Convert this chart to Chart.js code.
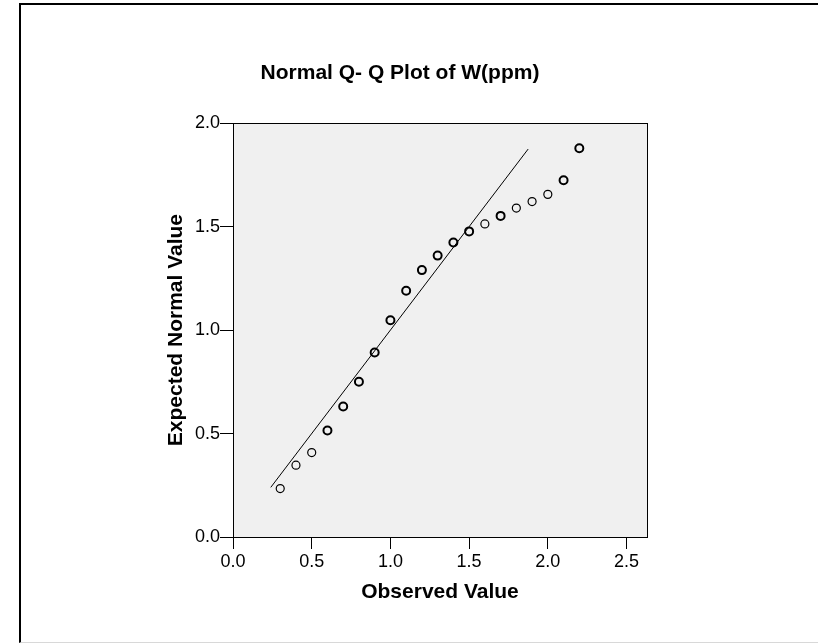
<!DOCTYPE html>
<html>
<head>
<meta charset="utf-8">
<script src="https://cdn.jsdelivr.net/npm/chart.js@4/dist/chart.umd.min.js"></script>
<style>
    html, body { margin: 0; padding: 0; background: #fff; }
    #wrap { position: relative; width: 818px; height: 643px; overflow: hidden; }
    #chart { position: absolute; left: 0; top: 0; }
    #frame {
        position: absolute; left: 19px; top: 3px; width: 810px; height: 637px;
        border-top: 2px solid #000; border-left: 2px solid #000;
        border-bottom: 1px solid #d8d8d8; pointer-events: none;
    }
</style>
</head>
<body>
<div id="wrap">
    <canvas id="chart" width="818" height="643"></canvas>
    <div id="frame"></div>
</div>
<script>
'use strict';

// observed W(ppm) values and their expected normal values
const observed = [0.3, 0.4, 0.5, 0.6, 0.7, 0.8, 0.9, 1.0, 1.1, 1.2,
    1.3, 1.4, 1.5, 1.6, 1.7, 1.8, 1.9, 2.0, 2.1, 2.2];
const expected = [0.234, 0.347, 0.408, 0.515, 0.631, 0.750, 0.892, 1.048, 1.190, 1.290,
    1.360, 1.423, 1.477, 1.513, 1.552, 1.590, 1.621, 1.656, 1.724, 1.879];
// how many observations sit on each point (ties get drawn heavier)
const counts = [1, 1, 1, 2, 2, 3, 2, 2, 2, 2,
    2, 2, 2, 1, 2, 1, 1, 1, 2, 2];
// reference line y = x, drawn over the expected range
const refLine = [0.24, 1.875];

const xTicks = [0, 0.5, 1.0, 1.5, 2.0, 2.5];
const yTicks = [0, 0.5, 1.0, 1.5, 2.0];

const FONT = '"Liberation Sans", Arial, Helvetica, sans-serif';

/** @description Gray plot background and a box round it */
const plotBox = {
    id: 'plotBox',
    beforeDraw(chart) {
        const a = chart.chartArea;
        const ctx = chart.ctx;
        ctx.save();
        ctx.fillStyle = '#f0f0f0';
        ctx.fillRect(a.left, a.top, a.right - a.left, a.bottom - a.top);
        ctx.restore();
    },
    afterDraw(chart) {
        const a = chart.chartArea;
        const ctx = chart.ctx;
        ctx.save();
        ctx.strokeStyle = '#000';
        ctx.lineWidth = 1;
        ctx.strokeRect(Math.round(a.left) + 0.5, Math.round(a.top) + 0.5,
            Math.round(a.right - a.left), Math.round(a.bottom - a.top));
        ctx.restore();
    }
};

(function () {
    Chart.defaults.font.family = FONT;
    Chart.defaults.color = '#000';

    let points = [];
    for (let i = 0; i < observed.length; i++)
        points.push({ x: observed[i], y: expected[i] });

    let line = refLine.map(v => ({ x: v, y: v }));

    let ctx = document.getElementById('chart').getContext('2d');

    new Chart(ctx, {
        type: 'scatter',
        data: {
            datasets: [{
                type: 'line',
                data: line,
                borderColor: '#000',
                borderWidth: 1,
                pointRadius: 0,
                fill: false
            }, {
                data: points,
                pointStyle: 'circle',
                pointRadius: 4,
                pointBackgroundColor: 'rgba(0,0,0,0)',
                pointBorderColor: '#000',
                pointBorderWidth: c => counts[c.dataIndex] > 1 ? 2 : 1.2
            }]
        },
        options: {
            responsive: false,
            animation: false,
            layout: {
                padding: { left: 153, right: 171, top: 10, bottom: 38 }
            },
            plugins: {
                legend: { display: false },
                tooltip: { enabled: false },
                title: {
                    display: true,
                    text: 'Normal Q- Q Plot of W(ppm)',
                    font: { size: 21, weight: 'bold' },
                    color: '#000',
                    padding: { top: 51, bottom: 37 }
                }
            },
            scales: {
                x: {
                    type: 'linear',
                    min: 0,
                    max: 2.63,
                    afterFit: s => { s.height = 68; },
                    afterBuildTicks: s => { s.ticks = xTicks.map(v => ({ value: v })); },
                    ticks: {
                        font: { size: 18 },
                        padding: 2,
                        maxRotation: 0,
                        callback: v => Number(v).toFixed(1)
                    },
                    grid: {
                        drawOnChartArea: false,
                        drawTicks: true,
                        tickLength: 12,
                        tickColor: '#000',
                        color: '#000'
                    },
                    border: { display: true, color: '#000', width: 1 },
                    title: {
                        display: true,
                        text: 'Observed Value',
                        font: { size: 21, weight: 'bold' },
                        padding: { top: 0, bottom: 0 }
                    }
                },
                y: {
                    type: 'linear',
                    min: 0,
                    max: 2.0,
                    afterFit: s => { s.width = 80; },
                    afterBuildTicks: s => { s.ticks = yTicks.map(v => ({ value: v })); },
                    ticks: {
                        font: { size: 18 },
                        padding: 0,
                        callback: v => Number(v).toFixed(1)
                    },
                    grid: {
                        drawOnChartArea: false,
                        drawTicks: true,
                        tickLength: 13,
                        tickColor: '#000',
                        color: '#000'
                    },
                    border: { display: true, color: '#000', width: 1 },
                    title: {
                        display: true,
                        text: 'Expected Normal Value',
                        font: { size: 21, weight: 'bold' },
                        padding: { top: 11, bottom: 0 }
                    }
                }
            }
        },
        plugins: [plotBox]
    });
})();
</script>
</body>
</html>
